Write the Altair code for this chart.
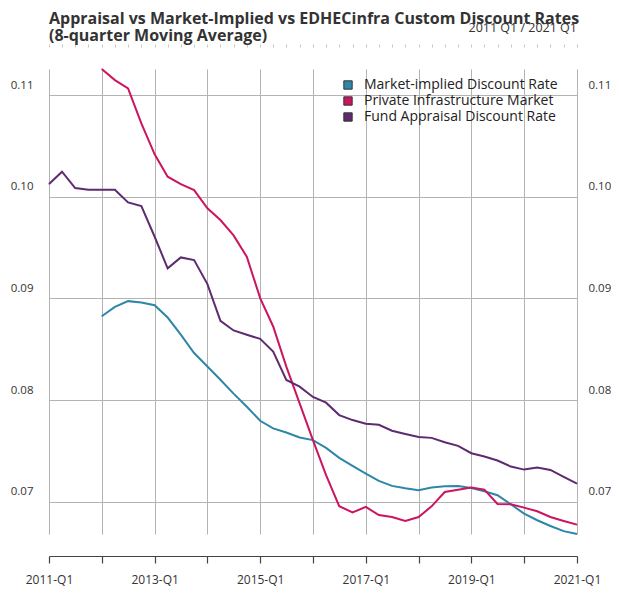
import altair as alt
import pandas as pd

# ---------------- data ----------------
quarters = [f"{y}-Q{q}" for y in range(2011, 2022) for q in range(1, 5)][:41]

market_implied = [None, None, None, None,
                  0.08826, 0.08918, 0.08974, 0.08961, 0.08934, 0.08813, 0.08645, 0.08464,
                  0.08332, 0.08201, 0.08065, 0.07936, 0.07798, 0.07723, 0.07683, 0.07634,
                  0.07608, 0.07532, 0.07434, 0.07355, 0.07279, 0.07207, 0.07158, 0.07134,
                  0.07115, 0.07141, 0.07154, 0.07157, 0.07138, 0.07105, 0.07066, 0.06977,
                  0.06885, 0.06820, 0.06764, 0.06713, 0.06685]

private_infra = [None, None, None, None,
                 0.11256, 0.11147, 0.11066, 0.10721, 0.10417, 0.10197, 0.10125, 0.10066,
                 0.09886, 0.09771, 0.09620, 0.09409, 0.09004, 0.08725, 0.08331, 0.07969,
                 0.07608, 0.07263, 0.06958, 0.06898, 0.06951, 0.06872, 0.06852, 0.06813,
                 0.06852, 0.06957, 0.07098, 0.07121, 0.07141, 0.07121, 0.06980, 0.06977,
                 0.06944, 0.06908, 0.06852, 0.06813, 0.06777]

fund_appraisal = [0.10125, 0.10246, 0.10086, 0.10069, 0.10069, 0.10069, 0.09945, 0.09909,
                  0.09607, 0.09296, 0.09404, 0.09378, 0.09142, 0.08781, 0.08686, 0.08643,
                  0.08603, 0.08479, 0.08199, 0.08134, 0.08032, 0.07976, 0.07854, 0.07805,
                  0.07769, 0.07759, 0.07700, 0.07668, 0.07639, 0.07630, 0.07587, 0.07551,
                  0.07479, 0.07446, 0.07407, 0.07348, 0.07318, 0.07338, 0.07315, 0.07246,
                  0.07180]

series_names = ["Market-implied Discount Rate",
                "Private Infrastructure Market",
                "Fund Appraisal Discount Rate"]
series_colors = ["#2E86A8", "#CC1460", "#5E2B70"]

title_lines = ["Appraisal vs Market-Implied vs EDHECinfra Custom Discount Rates",
               "(8-quarter Moving Average)"]
period_label = ["2011 Q1 / 2021 Q1"]

y_ticks = [0.07, 0.08, 0.09, 0.10, 0.11]

# ---------------- table ----------------
def q_to_date(q):
    y, qq = q.split("-Q")
    return f"{y}-{(int(qq) - 1) * 3 + 1:02d}-01"

dates = [q_to_date(q) for q in quarters]
rows = []
for name, vals in zip(series_names, [market_implied, private_infra, fund_appraisal]):
    for d, v in zip(dates, vals):
        if v is not None:
            rows.append({"date": d, "series": name, "value": v})
df = pd.DataFrame(rows)

year_dates = [d for d, q in zip(dates, quarters) if q.endswith("Q1")]

FONT = "Open Sans"
TXT = "#333333"
GRID = "#b3b3b3"

xscale = alt.Scale(nice=False)
yscale = alt.Scale(zero=False, nice=False)

lines = alt.Chart(df).mark_line(strokeWidth=2).encode(
    x=alt.X("date:T", scale=xscale, title=None,
            axis=alt.Axis(values=[alt.DateTime(year=int(d[:4]), month=1, date=1) for d in year_dates],
                          labelExpr="year(datum.value) % 2 == 1 ? timeFormat(datum.value, '%Y') + '-Q1' : ''",
                          grid=True, gridColor=GRID, gridWidth=1,
                          domain=True, domainColor="#444444", domainWidth=1.2,
                          ticks=True, tickColor="#444444", tickSize=7, tickWidth=1.2,
                          offset=22, labelPadding=11, labelFontSize=12,
                          labelFont=FONT, labelColor=TXT, labelOverlap=False,
                          labelFlush=False)),
    y=alt.Y("value:Q", scale=yscale, title=None,
            axis=alt.Axis(values=y_ticks, format=".2f", orient="left",
                          grid=True, gridColor=GRID, gridWidth=1,
                          domain=False, ticks=False, labelPadding=16,
                          labelOffset=-10, labelFontSize=11.5, labelFont=FONT,
                          labelColor=TXT)),
    color=alt.Color("series:N", scale=alt.Scale(domain=series_names, range=series_colors),
                    legend=None),
)

legend_layer = alt.Chart(df).mark_square(size=0.5, filled=True).encode(
    x=alt.X("date:T", scale=xscale, axis=None),
    y=alt.Y("value:Q", scale=yscale, axis=None),
    fill=alt.Fill("series:N", sort=series_names, scale=alt.Scale(range=series_colors),
                  legend=alt.Legend(title=None, orient="none", legendX=292, legendY=9,
                                    symbolType="square", symbolSize=70, symbolOpacity=1,
                                    symbolStrokeColor="#333333", symbolStrokeWidth=1,
                                    labelFont=FONT, labelFontSize=14, labelColor="#222222",
                                    labelOffset=9, rowPadding=2, labelLimit=400)),
)

right = alt.Chart(df).mark_line(strokeOpacity=0).encode(
    x=alt.X("date:T", scale=xscale, title=None,
            axis=alt.Axis(values=[alt.DateTime(year=int(d[:4]), month=int(d[5:7]), date=1) for d in dates],
                          labels=False, grid=False, domain=False,
                          ticks=True, tickColor="#c8c8c8", tickSize=3, tickWidth=1,
                          offset=22)),
    y=alt.Y("value:Q", scale=yscale, title=None,
            axis=alt.Axis(values=y_ticks, format=".2f", orient="right",
                          grid=False, domain=False, ticks=False, labelPadding=11,
                          labelOffset=-10, labelFontSize=11.5, labelFont=FONT,
                          labelColor=TXT)),
    detail="series:N",
)

period = alt.Chart(pd.DataFrame({"t": period_label})).mark_text(
    align="right", baseline="middle", font=FONT, fontSize=12.5,
    color=TXT
).encode(text="t:N", x=alt.value(528), y=alt.value(-41))

chart = alt.layer(lines, right, legend_layer, period).resolve_axis(
    x="independent", y="independent"
).properties(
    width=528, height=465,
    autosize=alt.AutoSizeParams(type="none"),
    padding={"left": 41, "top": 61, "right": 34, "bottom": 53},
    title=alt.TitleParams(title_lines, anchor="start", frame="group",
                          font=FONT, fontSize=16, fontWeight="bold",
                          color=TXT, lineHeight=17.5, offset=-22),
).configure_view(stroke=None)

chart.save("out.html", embed_options={"renderer": "svg", "actions": False})
